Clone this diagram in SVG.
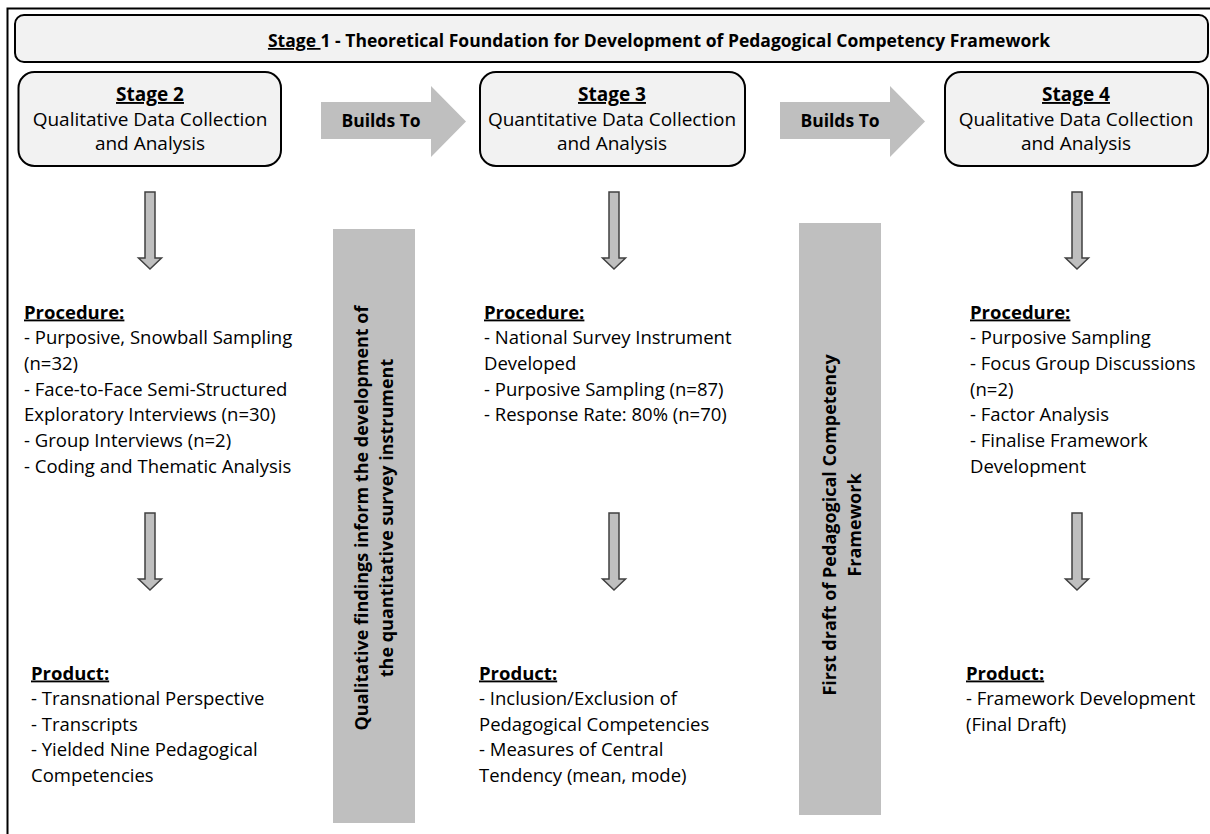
<svg xmlns="http://www.w3.org/2000/svg" width="1210" height="834" viewBox="0 0 1210 834">
<style>
text{font-family:"Open Sans","Liberation Sans",sans-serif;fill:#000}
.box{fill:#f2f2f2;stroke:#000;stroke-width:2}
.t{font-size:18.5px}
.st{font-size:19px;text-anchor:middle}
.b{font-weight:bold}
.u{text-decoration:underline}
.bar{fill:#bfbfbf}
.big{fill:#bfbfbf}
.down{fill:#bfbfbf;stroke:#404040;stroke-width:1.5}
.vt{font-size:18px;font-weight:bold;text-anchor:middle}
</style>
<defs>
<path id="dn" d="M-5,0 H5 V66 H11.5 L0,77 L-11.5,66 H-5 Z"/>
</defs>
<rect width="1210" height="834" fill="#fff"/>
<rect x="7.5" y="8.5" width="1220" height="840" fill="none" stroke="#000" stroke-width="2"/>

<g id="stage1">
<rect class="box" x="15" y="15" width="1193" height="47" rx="9"/>
<text class="b" x="659" y="47" font-size="17.5" text-anchor="middle"><tspan class="u">Stage </tspan>1 - Theoretical Foundation for Development of Pedagogical Competency Framework</text>
</g>

<g id="stage2">
<rect class="box" x="18.5" y="72" width="262.5" height="94" rx="16"/>
<text class="st" x="150" y="101"><tspan class="b u">Stage 2</tspan></text>
<text class="st" x="150" y="126">Qualitative Data Collection</text>
<text class="st" x="150" y="150">and Analysis</text>
</g>

<g id="stage3">
<rect class="box" x="480" y="72" width="265" height="94" rx="16"/>
<text class="st" x="612" y="101"><tspan class="b u">Stage 3</tspan></text>
<text class="st" x="612" y="126">Quantitative Data Collection</text>
<text class="st" x="612" y="150">and Analysis</text>
</g>

<g id="stage4">
<rect class="box" x="945" y="72" width="263" height="94" rx="16"/>
<text class="st" x="1076" y="101"><tspan class="b u">Stage 4</tspan></text>
<text class="st" x="1076" y="126">Qualitative Data Collection</text>
<text class="st" x="1076" y="150">and Analysis</text>
</g>

<g id="builds1">
<path class="big" d="M321,102 H431 V86 L466,121.5 L431,157 V139 H321 Z"/>
<text class="b" x="381" y="127" font-size="17.5" text-anchor="middle">Builds To</text>
</g>
<g id="builds2">
<path class="big" d="M780,102 H890 V86 L925,121.5 L890,157 V139 H780 Z"/>
<text class="b" x="840" y="127" font-size="17.5" text-anchor="middle">Builds To</text>
</g>

<g id="bar1">
<rect class="bar" x="333" y="229" width="82" height="594"/>
<g transform="translate(374,518) rotate(-90)">
<text class="vt" x="0" y="-6">Qualitative findings inform the development of</text>
<text class="vt" x="0" y="19">the quantitative survey instrument</text>
</g>
</g>
<g id="bar2">
<rect class="bar" x="799" y="223" width="82" height="592"/>
<g transform="translate(840,525) rotate(-90)">
<text class="vt" x="0" y="-4">First draft of Pedagogical Competency</text>
<text class="vt" x="0" y="21">Framework</text>
</g>
</g>

<g id="connectors">
<use href="#dn" class="down" x="150" y="192"/>
<use href="#dn" class="down" x="614" y="192"/>
<use href="#dn" class="down" x="1077" y="192"/>
<use href="#dn" class="down" x="150" y="513"/>
<use href="#dn" class="down" x="614" y="513"/>
<use href="#dn" class="down" x="1077" y="513"/>
</g>

<g id="proc2">
<text x="24" y="318.5" class="t b u">Procedure:</text>
<text x="24" y="344.2" class="t">- Purposive, Snowball Sampling</text>
<text x="24" y="369.9" class="t">(n=32)</text>
<text x="24" y="395.6" class="t">- Face-to-Face Semi-Structured</text>
<text x="24" y="421.3" class="t">Exploratory Interviews (n=30)</text>
<text x="24" y="447" class="t">- Group Interviews (n=2)</text>
<text x="24" y="472.7" class="t">- Coding and Thematic Analysis</text>
</g>
<g id="proc3">
<text x="484" y="318.5" class="t b u">Procedure:</text>
<text x="484" y="344.2" class="t">- National Survey Instrument</text>
<text x="484" y="369.9" class="t">Developed</text>
<text x="484" y="395.6" class="t">- Purposive Sampling (n=87)</text>
<text x="484" y="421.3" class="t">- Response Rate: 80% (n=70)</text>
</g>
<g id="proc4">
<text x="970" y="318.5" class="t b u">Procedure:</text>
<text x="970" y="344.2" class="t">- Purposive Sampling</text>
<text x="970" y="369.9" class="t">- Focus Group Discussions</text>
<text x="970" y="395.6" class="t">(n=2)</text>
<text x="970" y="421.3" class="t">- Factor Analysis</text>
<text x="970" y="447" class="t">- Finalise Framework</text>
<text x="970" y="472.7" class="t">Development</text>
</g>

<g id="prod2">
<text x="31" y="679.5" class="t b u">Product:</text>
<text x="31" y="705" class="t">- Transnational Perspective</text>
<text x="31" y="730.5" class="t">- Transcripts</text>
<text x="31" y="756" class="t">- Yielded Nine Pedagogical</text>
<text x="31" y="781.5" class="t">Competencies</text>
</g>
<g id="prod3">
<text x="479" y="679.5" class="t b u">Product:</text>
<text x="479" y="705" class="t">- Inclusion/Exclusion of</text>
<text x="479" y="730.5" class="t">Pedagogical Competencies</text>
<text x="479" y="756" class="t">- Measures of Central</text>
<text x="479" y="781.5" class="t">Tendency (mean, mode)</text>
</g>
<g id="prod4">
<text x="966" y="679.5" class="t b u">Product:</text>
<text x="966" y="705" class="t">- Framework Development</text>
<text x="966" y="730.5" class="t">(Final Draft)</text>
</g>
</svg>
